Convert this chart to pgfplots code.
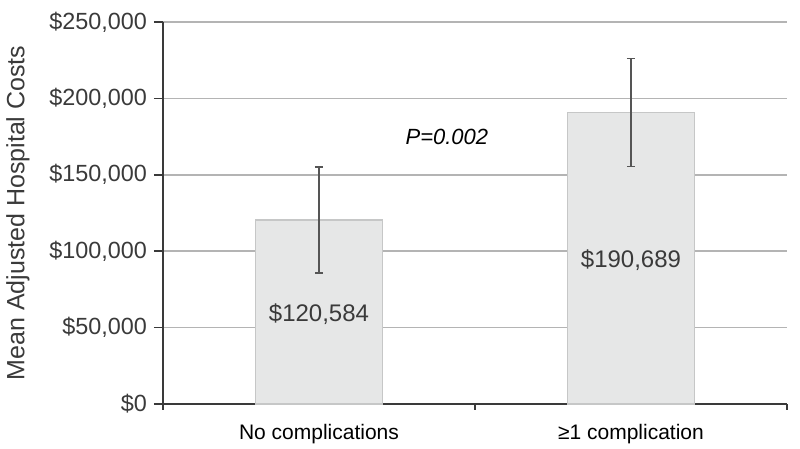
\documentclass[border=0pt]{standalone}
\usepackage{fontspec}
\setmainfont{Liberation Sans}
\usepackage{pgfplots}
\pgfplotsset{compat=1.18}
\definecolor{barfill}{HTML}{E6E7E7}
\definecolor{baredge}{HTML}{C6C7C7}
\definecolor{gridc}{HTML}{B4B4B4}
\definecolor{axisc}{HTML}{3A3A3A}
\definecolor{errc}{HTML}{555555}

\begin{document}
\begin{tikzpicture}
\begin{axis}[
  scale only axis,
  width=312pt, height=191pt,
  xmin=-0.5, xmax=1.5,
  ymin=0, ymax=250000,
  axis x line*=bottom, axis y line*=left,
  axis line style={axisc, line width=0.8pt},
  tick align=outside,
  scaled y ticks=false,
  ytick={0,50000,100000,150000,200000,250000},
  yticklabels={{\$0},{\$50,000},{\$100,000},{\$150,000},{\$200,000},{\$250,000}},
  y tick label style={font=\fontsize{11.7}{13}\selectfont, text=axisc},
  major tick length=4.5pt,
  ymajorgrids,
  grid style={gridc, line width=0.8pt},
  xtick={0,1},
  xticklabels={No complications, ≥1 complication},
  x tick label style={font=\fontsize{10.5}{12}\selectfont, text=black, yshift=-2pt},
  major x tick style={draw=none},
  minor xtick={-0.5,0.5,1.5},
  minor tick length=3pt,
  minor x tick style={axisc, line width=0.8pt},
  major y tick style={axisc, line width=0.8pt},
  ylabel={Mean Adjusted Hospital Costs},
  ylabel style={font=\fontsize{12.5}{14}\selectfont, text=axisc},
  ylabel shift=3pt,
  /pgf/number format/assume math mode=true,
  clip=false,
]
\addplot[ybar, bar width=63.5pt, fill=barfill, draw=baredge, line width=0.8pt,
  error bars/.cd, y dir=both, y explicit,
  error bar style={errc, line width=0.8pt},
  error mark options={rotate=90, mark size=2pt, errc, line width=0.8pt}]
  coordinates {(0,120584) +- (0,34700) (1,190689) +- (0,35300)};
\node[font=\fontsize{12}{14}\selectfont, text=axisc] at (axis cs:0,58900) {\$120,584};
\node[font=\fontsize{12}{14}\selectfont, text=axisc] at (axis cs:1,94200) {\$190,689};
\node[font=\fontsize{11}{13}\selectfont\itshape, text=black] at (axis cs:0.41,174800) {P=0.002};
\end{axis}
\pgfresetboundingbox
\path[use as bounding box] ([shift={(-81.5pt,-22.5pt)}]current axis.south west) rectangle ([shift={(6.5pt,11pt)}]current axis.north east);
\end{tikzpicture}
\end{document}
